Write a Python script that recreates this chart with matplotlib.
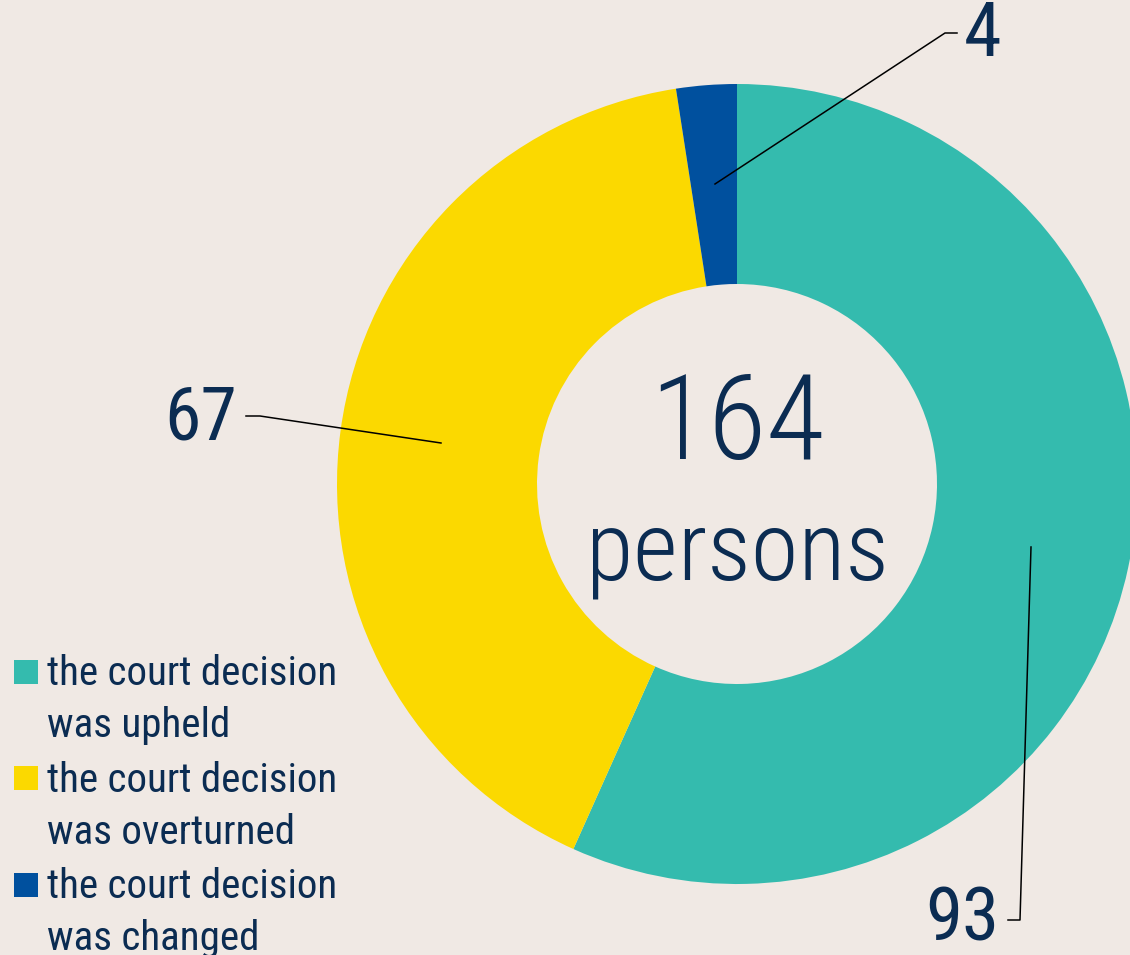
import matplotlib
matplotlib.use("Agg")
import matplotlib.pyplot as plt
from matplotlib.patches import Rectangle
from matplotlib import font_manager

categories = ["the court decision\nwas upheld",
              "the court decision\nwas overturned",
              "the court decision\nwas changed"]
values = [93, 67, 4]
total_label = "164"
unit_label = "persons"
colors = ["#34BBAE", "#FBD900", "#00509E"]

BG = "#F0E9E4"
TXT = "#0B2C52"

avail = {f.name for f in font_manager.fontManager.ttflist}
fam = [f for f in ["Roboto Condensed", "Roboto", "DejaVu Sans"] if f in avail]
plt.rcParams['font.family'] = fam

W, H = 1130, 955
fig = plt.figure(figsize=(W / 100, H / 100), dpi=100, facecolor=BG)
ax = fig.add_axes([0, 0, 1, 1])
ax.set_facecolor(BG)

def Y(y):
    return H - y

cx, cy = 737, 484
ax.pie(values, colors=colors, startangle=90, counterclock=False,
       radius=400, center=(cx, Y(cy)), frame=True,
       wedgeprops=dict(width=200, linewidth=0))
ax.set_xlim(0, W)
ax.set_ylim(0, H)
ax.set_aspect("equal")
ax.axis("off")

ax.text(cx, Y(427), total_label, fontsize=86, color=TXT, ha="center",
        va="center", fontweight="light")
ax.text(cx, Y(553), unit_label, fontsize=70, color=TXT, ha="center",
        va="center", fontweight="light")

# leader lines and value labels
lw = 1.1
ax.plot([715, 945, 957], [Y(184), Y(33), Y(33)], color="black", lw=lw)
ax.text(964, Y(36), str(values[2]), fontsize=55, color=TXT, ha="left", va="center")

ax.plot([441, 260, 246], [Y(443), Y(416), Y(416)], color="black", lw=lw)
ax.text(237, Y(419), str(values[1]), fontsize=53, color=TXT, ha="right", va="center")

ax.plot([1031, 1020, 1008], [Y(547), Y(920), Y(920)], color="black", lw=lw)
ax.text(999, Y(920), str(values[0]), fontsize=54, color=TXT, ha="right", va="center")

# legend
for i, (lab, col) in enumerate(zip(categories, colors)):
    top = 660 + i * 106.5
    ax.add_patch(Rectangle((14, Y(top + 24)), 24, 24, color=col, lw=0))
    l1, l2 = lab.split("\n")
    ax.text(47, Y(top + 25), l1, fontsize=29.5, color=TXT, ha="left", va="baseline")
    ax.text(47, Y(top + 77), l2, fontsize=29.5, color=TXT, ha="left", va="baseline")

fig.savefig("out.png", dpi=100, facecolor=BG)
